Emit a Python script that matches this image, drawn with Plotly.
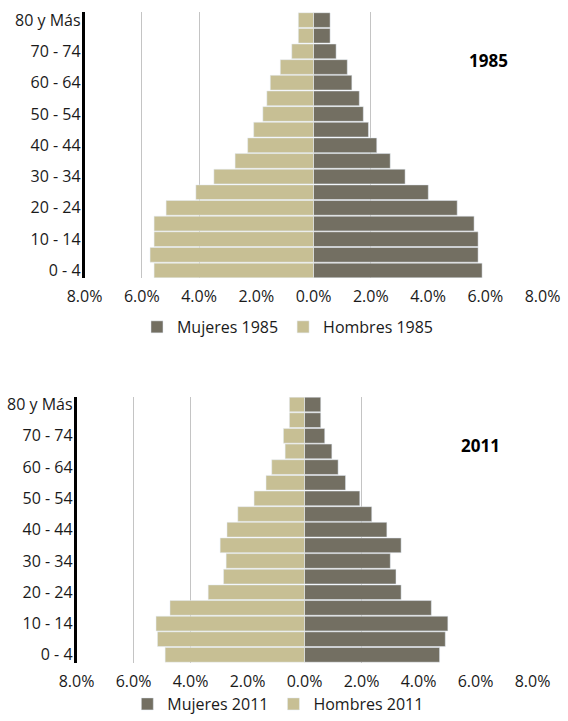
import plotly.graph_objects as go

# age groups, bottom to top
edades = ["0 - 4", "5 - 9", "10 - 14", "15 - 19", "20 - 24", "25 - 29", "30 - 34",
          "35 - 39", "40 - 44", "45 - 49", "50 - 54", "55 - 59", "60 - 64",
          "65 - 69", "70 - 74", "75 - 79", "80 y Más"]

# % of total population
mujeres_1985 = [5.89, 5.75, 5.75, 5.61, 5.02, 4.01, 3.20, 2.68, 2.21, 1.92, 1.74,
                1.60, 1.34, 1.18, 0.79, 0.58, 0.58]
hombres_1985 = [5.57, 5.71, 5.57, 5.57, 5.15, 4.11, 3.48, 2.74, 2.30, 2.09, 1.77,
                1.63, 1.51, 1.16, 0.76, 0.53, 0.53]
mujeres_2011 = [4.74, 4.94, 5.03, 4.45, 3.39, 3.21, 3.01, 3.39, 2.89, 2.36, 1.94,
                1.44, 1.18, 0.96, 0.71, 0.57, 0.57]
hombres_2011 = [4.89, 5.16, 5.21, 4.72, 3.38, 2.84, 2.75, 2.96, 2.72, 2.34, 1.77,
                1.35, 1.15, 0.68, 0.74, 0.53, 0.53]

tick_vals = [-8, -6, -4, -2, 0, 2, 4, 6, 8]
tick_text = ["8.0%", "6.0%", "4.0%", "2.0%", "0.0%", "2.0%", "4.0%", "6.0%", "8.0%"]
grid_vals = [-6, -4, 2, 8]
label_edades = edades[::2]

OSCURO = "#736f62"
CLARO = "#c7bf94"
FONT = "Open Sans"

fig = go.Figure()

fig.add_trace(go.Bar(y=edades, x=mujeres_1985, orientation="h", name="Mujeres 1985",
                     marker_color=OSCURO, xaxis="x", yaxis="y", legend="legend"))
fig.add_trace(go.Bar(y=edades, x=[-v for v in hombres_1985], orientation="h", name="Hombres 1985",
                     marker_color=CLARO, xaxis="x3", yaxis="y", legend="legend"))
fig.add_trace(go.Bar(y=edades, x=mujeres_2011, orientation="h", name="Mujeres 2011",
                     marker_color=OSCURO, xaxis="x2", yaxis="y2", legend="legend2"))
fig.add_trace(go.Bar(y=edades, x=[-v for v in hombres_2011], orientation="h", name="Hombres 2011",
                     marker_color=CLARO, xaxis="x4", yaxis="y2", legend="legend2"))

xbase = dict(range=[-8, 8], autorange=False, tickvals=tick_vals, ticktext=tick_text,
             showgrid=False, zeroline=False, showline=False, ticks="", ticklabelstandoff=7,
             tickfont=dict(family=FONT, size=16, color="#1a1a1a"), fixedrange=True,
             automargin=False)
xgrid = dict(range=[-8, 8], autorange=False, tickvals=grid_vals, showgrid=True,
             gridcolor="#c4c4c4", gridwidth=1.4, zeroline=False, showline=False,
             showticklabels=False, ticks="", fixedrange=True, automargin=False)
ybase = dict(type="category", categoryorder="array", categoryarray=edades,
             tickvals=label_edades, ticktext=label_edades, showgrid=False, zeroline=False,
             showline=True, linecolor="#000000", linewidth=2.5, ticks="",
             ticklabelstandoff=-2, tickfont=dict(family=FONT, size=16, color="#1a1a1a"),
             fixedrange=True, automargin=False)

fig.update_layout(
    width=568, height=721,
    margin=dict(l=0, r=0, t=0, b=0),
    paper_bgcolor="white", plot_bgcolor="white",
    barmode="overlay", bargap=0.06,
    font=dict(family=FONT, size=16, color="#1a1a1a"),
    xaxis=dict(xbase, domain=[0.1488, 0.9551], anchor="y"),
    xaxis3=dict(xgrid, overlaying="x", anchor="y"),
    yaxis=dict(ybase, domain=[0.614, 0.983], anchor="x"),
    xaxis2=dict(xbase, domain=[0.1347, 0.9375], anchor="y2"),
    xaxis4=dict(xgrid, overlaying="x2", anchor="y2"),
    yaxis2=dict(ybase, domain=[0.0809, 0.4498], anchor="x2"),
    legend=dict(orientation="h", x=0.507, xanchor="center", y=0.5465, yanchor="middle",
                font=dict(family=FONT, size=16), itemwidth=30, bgcolor="rgba(0,0,0,0)"),
    legend2=dict(orientation="h", x=0.49, xanchor="center", y=0.0, yanchor="bottom",
                 font=dict(family=FONT, size=16), itemwidth=30, bgcolor="rgba(0,0,0,0)"),
    annotations=[
        dict(text="<b>1985</b>", xref="x domain", yref="y domain", x=0.882, y=0.818,
             xanchor="center", yanchor="middle", showarrow=False,
             font=dict(family=FONT, size=17, color="#000000")),
        dict(text="<b>2011</b>", xref="x2 domain", yref="y2 domain", x=0.887, y=0.817,
             xanchor="center", yanchor="middle", showarrow=False,
             font=dict(family=FONT, size=17, color="#000000")),
    ],
    showlegend=True,
)

fig.write_html("out.html", config={"displayModeBar": False},
               post_script="document.body.style.margin='0';")
